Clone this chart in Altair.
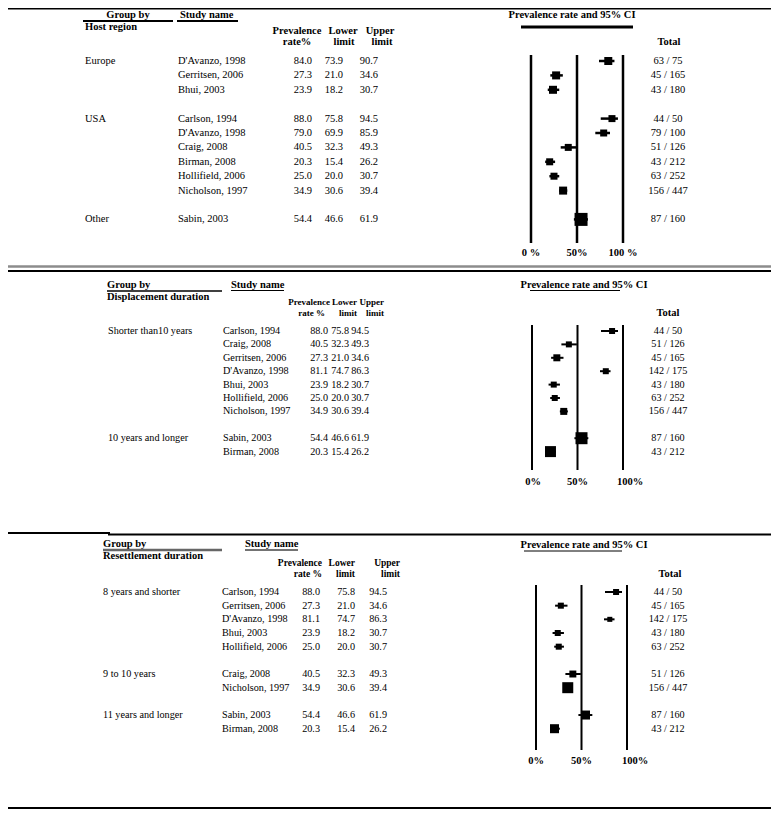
import altair as alt
import pandas as pd

# ---------------- data ----------------
# Panel 1: grouped by host region
p1_groups = ["Europe", "Europe", "Europe", "USA", "USA", "USA", "USA", "USA", "USA", "Other"]
p1_studies = ["D'Avanzo, 1998", "Gerritsen, 2006", "Bhui, 2003", "Carlson, 1994", "D'Avanzo, 1998",
              "Craig, 2008", "Birman, 2008", "Hollifield, 2006", "Nicholson, 1997", "Sabin, 2003"]
p1_rate = [84.0, 27.3, 23.9, 88.0, 79.0, 40.5, 20.3, 25.0, 34.9, 54.4]
p1_lower = [73.9, 21.0, 18.2, 75.8, 69.9, 32.3, 15.4, 20.0, 30.6, 46.6]
p1_upper = [90.7, 34.6, 30.7, 94.5, 85.9, 49.3, 26.2, 30.7, 39.4, 61.9]
p1_total = ["63 / 75", "45 / 165", "43 / 180", "44 / 50", "79 / 100", "51 / 126",
            "43 / 212", "63 / 252", "156 / 447", "87 / 160"]
p1_weight = [38, 38, 38, 29, 29, 29, 29, 29, 38, 100]

# Panel 2: grouped by displacement duration
p2_groups = ["Shorter than10 years"] * 7 + ["10 years and longer"] * 2
p2_studies = ["Carlson, 1994", "Craig, 2008", "Gerritsen, 2006", "D'Avanzo, 1998", "Bhui, 2003",
              "Hollifield, 2006", "Nicholson, 1997", "Sabin, 2003", "Birman, 2008"]
p2_rate = [88.0, 40.5, 27.3, 81.1, 23.9, 25.0, 34.9, 54.4, 20.3]
p2_lower = [75.8, 32.3, 21.0, 74.7, 18.2, 20.0, 30.6, 46.6, 15.4]
p2_upper = [94.5, 49.3, 34.6, 86.3, 30.7, 30.7, 39.4, 61.9, 26.2]
p2_total = ["44 / 50", "51 / 126", "45 / 165", "142 / 175", "43 / 180", "63 / 252",
            "156 / 447", "87 / 160", "43 / 212"]
p2_weight = [25, 25, 34, 25, 25, 25, 34, 100, 84]

# Panel 3: grouped by resettlement duration
p3_groups = ["8 years and shorter"] * 5 + ["9 to 10 years"] * 2 + ["11 years and longer"] * 2
p3_studies = ["Carlson, 1994", "Gerritsen, 2006", "D'Avanzo, 1998", "Bhui, 2003", "Hollifield, 2006",
              "Craig, 2008", "Nicholson, 1997", "Sabin, 2003", "Birman, 2008"]
p3_rate = [88.0, 27.3, 81.1, 23.9, 25.0, 40.5, 34.9, 54.4, 20.3]
p3_lower = [75.8, 21.0, 74.7, 18.2, 20.0, 32.3, 30.6, 46.6, 15.4]
p3_upper = [94.5, 34.6, 86.3, 30.7, 30.7, 49.3, 39.4, 61.9, 26.2]
p3_total = ["44 / 50", "45 / 165", "142 / 175", "43 / 180", "63 / 252", "51 / 126",
            "156 / 447", "87 / 160", "43 / 212"]
p3_weight = [30, 30, 21, 30, 30, 40, 100, 67, 67]

tick_vals = [0, 50, 100]
p1_tick_labels = ["0 %", "50%", "100 %"]
p23_tick_labels = ["0%", "50%", "100%"]

# ---------------- layout helpers ----------------
FONT = "Liberation Serif"
FS = 10.5
OFF = 8          # page margin
W, H = 763, 801
one = pd.DataFrame({"k": [0]})


def px(v):
    return v - OFF


def make_df(groups, studies, rate, lower, upper, total, weight):
    rows, glabels = [], []
    gi = -1
    prev = None
    for i, g in enumerate(groups):
        if g != prev:
            gi += 1
            glabels.append(g)
        else:
            glabels.append("")
        prev = g
        rows.append(i + gi)
    return pd.DataFrame({"glabel": glabels, "study": studies, "rate": rate, "lower": lower,
                         "upper": upper, "total": total, "weight": weight, "row": rows})


def hline(x1, x2, y, color="black", w=1.5, raw=False):
    yy = y if raw else px(y)
    return alt.Chart(one).mark_rule(color=color, strokeWidth=w).encode(
        x=alt.value(px(x1)), x2=alt.value(px(x2)), y=alt.value(yy))


def label(text, x, y, align="left", bold=True, size=FS):
    return alt.Chart(one).mark_text(
        align=align, baseline="middle", font=FONT, fontSize=size,
        fontWeight="bold" if bold else "normal", color="black").encode(
        x=alt.value(px(x)), y=alt.value(px(y)), text=alt.value(text))


def panel(df, c):
    last = int(df["row"].max())
    ys = alt.Scale(domain=[0, last], range=[px(c["y0"]), px(c["y0"] + last * c["pitch"])],
                   nice=False, zero=False)
    xs = alt.Scale(domain=[0, 100], range=[px(c["x0"]), px(c["x100"])], nice=False, zero=False)
    Y = alt.Y("row:Q", scale=ys, axis=None)
    base = alt.Chart(df)
    out = []
    cols = [("glabel", c["gx"], "left", None), ("study", c["sx"], "left", None),
            ("rate", c["rx"], "right", ".1f"), ("lower", c["lx"], "right", ".1f"),
            ("upper", c["ux"], "right", ".1f"), ("total", c["tx"], "center", None)]
    for field, x, align, fmt in cols:
        txt = alt.Text(f"{field}:Q", format=fmt) if fmt else alt.Text(f"{field}:N")
        out.append(base.mark_text(align=align, baseline="middle", font=FONT, fontSize=c["fs"],
                                  color="black").encode(x=alt.value(px(x)), y=Y, text=txt))
    ticks = pd.DataFrame({"v": tick_vals})
    out.append(alt.Chart(ticks).mark_rule(color="black", strokeWidth=c["vw"]).encode(
        x=alt.X("v:Q", scale=xs, axis=None), y=alt.value(px(c["vtop"])), y2=alt.value(px(c["vbot"]))))
    for v, lab, dx in zip(tick_vals, c["tlabels"], c["tdx"]):
        out.append(alt.Chart(pd.DataFrame({"v": [v], "t": [lab]})).mark_text(
            align="center", baseline="middle", font=FONT, fontSize=FS, fontWeight="bold",
            color="black", dx=dx).encode(
            x=alt.X("v:Q", scale=xs, axis=None), y=alt.value(px(c["ty"])), text="t:N"))
    out.append(base.mark_rule(color="black", strokeWidth=c["ciw"]).encode(
        x=alt.X("lower:Q", scale=xs, axis=None), x2="upper:Q", y=Y))
    out.append(base.mark_square(color="black", opacity=1, strokeWidth=0).encode(
        x=alt.X("rate:Q", scale=xs, axis=None), y=Y,
        size=alt.Size("weight:Q", scale=alt.Scale(domain=[0, 100], range=[0, c["maxarea"]]),
                      legend=None)))
    return out


d1 = make_df(p1_groups, p1_studies, p1_rate, p1_lower, p1_upper, p1_total, p1_weight)
d2 = make_df(p2_groups, p2_studies, p2_rate, p2_lower, p2_upper, p2_total, p2_weight)
d3 = make_df(p3_groups, p3_studies, p3_rate, p3_lower, p3_upper, p3_total, p3_weight)

c1 = dict(gx=85, sx=178, rx=312, lx=343, ux=378, tx=668, y0=61, pitch=14.4, x0=531, x100=623,
          vtop=55, vbot=243, ty=253, vw=2.5, ciw=2.5, maxarea=169, fs=10.5,
          tlabels=p1_tick_labels, tdx=[0, 0, 0])
c2 = dict(gx=108, sx=223, rx=328, lx=349, ux=369, tx=668, y0=331, pitch=13.4, x0=532, x100=623,
          vtop=325, vbot=470, ty=482, vw=2, ciw=2, maxarea=144, fs=10.2,
          tlabels=p23_tick_labels, tdx=[1, 0, 7])
c3 = dict(gx=103, sx=222, rx=320, lx=355, ux=387, tx=668, y0=592, pitch=13.67, x0=536, x100=627,
          vtop=585, vbot=750, ty=761, vw=2, ciw=2, maxarea=121, fs=10.2,
          tlabels=p23_tick_labels, tdx=[0, 0, 8])

layers = []
# ---- panel 1 frame & headers
layers += [
    hline(0, 779, 0.75, w=1.5, raw=True),
    hline(0, 779, 266.5, color="#8c8c8c", w=2.5),
    label("Group by", 128, 15, align="center"),
    hline(83, 173, 21, w=2),
    label("Host region", 85, 27),
    label("Study name", 180, 15),
    hline(177, 238, 21, w=2),
    label("Prevalence", 297, 31, align="center"),
    label("rate%", 297, 42, align="center"),
    label("Lower", 343, 31, align="center"),
    label("limit", 344, 42, align="center"),
    label("Upper", 380, 31, align="center"),
    label("limit", 382, 42, align="center"),
    label("Prevalence rate and 95% CI", 572, 15, align="center"),
    hline(521, 633, 27, w=3),
    label("Total", 669, 42, align="center"),
]
layers += panel(d1, c1)
# ---- panel 2
layers += [
    hline(0, 779, 271, w=2),
    label("Group by", 107, 285),
    hline(107, 222, 291, w=1.5),
    label("Displacement duration", 107, 297),
    label("Study name", 231, 285),
    hline(231, 284, 290.5, w=1),
    label("Prevalence", 330, 302, align="right", size=9),
    label("rate %", 325, 313, align="right", size=9),
    label("Lower", 357, 302, align="right", size=9),
    label("limit", 357, 313, align="right", size=9),
    label("Upper", 384, 302, align="right", size=9),
    label("limit", 384, 313, align="right", size=9),
    label("Prevalence rate and 95% CI", 584, 285, align="center"),
    hline(530, 620, 290.5, w=1),
    label("Total", 668, 313, align="center"),
]
layers += panel(d2, c2)
# ---- panel 3
layers += [
    hline(0, 110, 533, w=2),
    hline(108, 779, 534.5, w=2),
    label("Group by", 103, 544),
    hline(103, 222, 550, color="#666666", w=2.5),
    label("Resettlement duration", 103, 556),
    label("Study name", 245, 544),
    hline(245, 298, 550, color="#444444", w=1.5),
    label("Prevalence", 322, 563, align="right", size=9.5),
    label("rate %", 322, 574, align="right", size=9.5),
    label("Lower", 355, 563, align="right", size=9.5),
    label("limit", 355, 574, align="right", size=9.5),
    label("Upper", 400, 563, align="right", size=9.5),
    label("limit", 400, 574, align="right", size=9.5),
    label("Prevalence rate and 95% CI", 584, 545, align="center"),
    hline(524, 622, 551, w=1),
    label("Total", 670, 574, align="center"),
    hline(0, 779, 808, w=2),
]
layers += panel(d3, c3)

chart = alt.layer(*layers).resolve_scale(x="independent", y="independent", size="independent").properties(
    width=W, height=H, autosize=alt.AutoSizeParams(type="none"), padding=0
).configure_view(stroke=None)

chart.save("out.html", embed_options={"renderer": "svg", "actions": False})
